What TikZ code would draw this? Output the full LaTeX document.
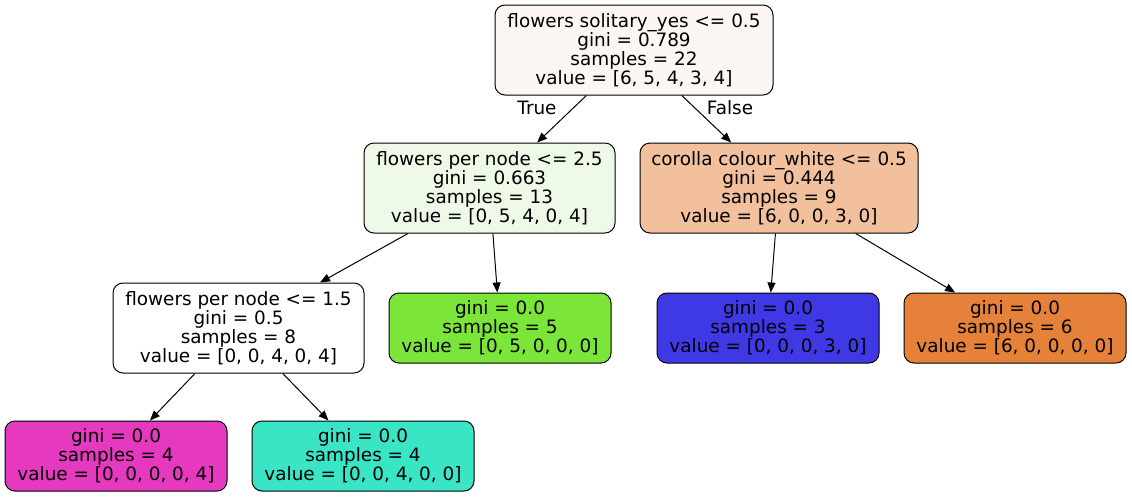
\documentclass[tikz,border=0pt]{standalone}
\usepackage{fontspec}
\setmainfont{DejaVu Sans}
\usetikzlibrary{arrows.meta}
\tikzset{>={Triangle[length=7.5pt,width=6pt]},
  font=\fontsize{13.8}{14.25}\selectfont,
  split/.style={draw,line width=0.75pt,rounded corners=7.5pt,align=center,inner sep=0pt,minimum height=67.5pt},
  leaf/.style={split,minimum width=166.5pt,minimum height=52.5pt}}

\begin{document}
\begin{tikzpicture}[x=0.75pt,y=-0.75pt,line width=0.75pt]
\useasboundingbox (0,0) rectangle (1132,497);
\node (R) [split,minimum width=208.5pt,fill={rgb,255:red,253;green,247;blue,243}] at (634,50)
  {flowers solitary\_yes <= 0.5\\gini = 0.789\\samples = 22\\value = [6, 5, 4, 3, 4]};
\node (L) [split,minimum width=188.25pt,fill={rgb,255:red,239;green,249;blue,232}] at (489.5,188)
  {flowers per node <= 2.5\\gini = 0.663\\samples = 13\\value = [0, 5, 4, 0, 4]};
\node (Rt) [split,minimum width=208.5pt,fill={rgb,255:red,242;green,192;blue,156}] at (779,188)
  {corolla colour\_white <= 0.5\\gini = 0.444\\samples = 9\\value = [6, 0, 0, 3, 0]};
\node (LL) [split,minimum width=188.25pt,fill=white] at (238.5,328)
  {flowers per node <= 1.5\\gini = 0.5\\samples = 8\\value = [0, 0, 4, 0, 4]};
\node (LR) [leaf,fill={rgb,255:red,123;green,229;blue,57}] at (500,328)
  {gini = 0.0\\samples = 5\\value = [0, 5, 0, 0, 0]};
\node (RL) [leaf,fill={rgb,255:red,63;green,57;blue,229}] at (768,328)
  {gini = 0.0\\samples = 3\\value = [0, 0, 0, 3, 0]};
\node (RR) [leaf,fill={rgb,255:red,229;green,129;blue,57}] at (1015,328)
  {gini = 0.0\\samples = 6\\value = [6, 0, 0, 0, 0]};
\node (LLL) [leaf,fill={rgb,255:red,229;green,57;blue,192}] at (116,456)
  {gini = 0.0\\samples = 4\\value = [0, 0, 0, 0, 4]};
\node (LLR) [leaf,fill={rgb,255:red,57;green,229;blue,197}] at (363,456)
  {gini = 0.0\\samples = 4\\value = [0, 0, 4, 0, 0]};
\node (T) at (537,108) {True};
\node (F) at (730,108) {False};
\path[->]
(R) edge (L)
(R) edge (Rt)
(L) edge (LL)
(L) edge (LR)
(Rt) edge (RL)
(Rt) edge (RR)
(LL) edge (LLL)
(LL) edge (LLR)
;
\end{tikzpicture}
\end{document}
